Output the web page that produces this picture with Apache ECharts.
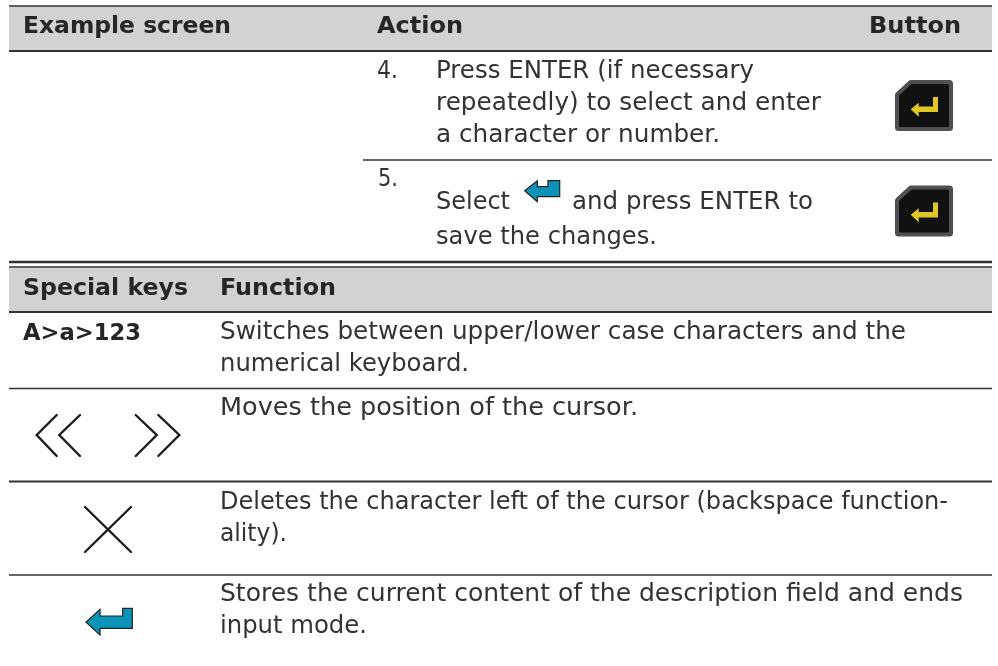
<!DOCTYPE html>
<html>
<head>
<meta charset="utf-8">
<style>
  html, body { margin: 0; padding: 0; background: #fff; }
  #main { width: 998px; height: 666px; }
</style>
</head>
<body>
<div id="main"></div>
<script src="https://cdn.jsdelivr.net/npm/echarts@6/dist/echarts.min.js"></script>
<script>
// table text
const headerTop = ["Example screen", "Action", "Button"];
const stepNumbers = ["4.", "5."];
const stepFour = ["Press ENTER (if necessary", "repeatedly) to select and enter", "a character or number."];
const stepFive = ["Select", "and press ENTER to", "save the changes."];
const headerKeys = ["Special keys", "Function"];
const keyLabel = "A>a>123";
const functions = [
  "Switches between upper/lower case characters and the",
  "numerical keyboard.",
  "Moves the position of the cursor.",
  "Deletes the character left of the cursor (backspace function-",
  "ality).",
  "Stores the current content of the description field and ends",
  "input mode."
];

const FONT = '"DejaVu Sans", sans-serif';
const INK = "#333";
const LEFT = 9, RIGHT = 992;
const measure = document.createElement("canvas").getContext("2d");

// x1 is where the line ends in the reference, the text is stretched a little to reach it
function label(text, x, x1, base, bold) {
  const font = (bold ? "bold 23px " : "24px ") + FONT;
  measure.font = font;
  return {
    type: "text",
    x: x,
    y: base - (bold ? 6.5 : 8),
    scaleX: (x1 - x) / measure.measureText(text).width,
    style: {
      x: 0,
      y: 0,
      text: text,
      fill: bold ? "#262626" : INK,
      font: font,
      align: "left",
      verticalAlign: "middle"
    }
  };
}
function rule(y, width, x1) {
  return {
    type: "line",
    shape: { x1: x1 || LEFT, y1: y, x2: RIGHT, y2: y },
    style: { stroke: "#333", lineWidth: width }
  };
}
function band(y, h) {
  return { type: "rect", shape: { x: LEFT, y: y, width: RIGHT - LEFT, height: h }, style: { fill: "#d2d2d2" } };
}
function blueArrow(points) {
  return { type: "polygon", shape: { points: points }, style: { fill: "#0b93b8", stroke: "#222", lineWidth: 1.2 } };
}
function stroke(points) {
  return { type: "polyline", shape: { points: points }, style: { stroke: "#1c1c1c", fill: null, lineWidth: 2.4, lineJoin: "miter", lineCap: "round" } };
}
// the black keyboard ENTER key, dy moves it down to the second row
function enterKey(dy) {
  const p = (pts) => pts.map((q) => [q[0], q[1] + dy]);
  return [
    {
      type: "polygon",
      shape: { points: p([[898.5, 95], [911, 83.5], [949.5, 83.5], [949.5, 127.5], [898.5, 127.5]]) },
      style: { fill: "#505050", stroke: "#505050", lineWidth: 7, lineJoin: "round" }
    },
    {
      type: "polygon",
      shape: { points: p([[900.5, 96], [912, 85.5], [947.5, 85.5], [947.5, 125.5], [900.5, 125.5]]) },
      style: { fill: "#111", stroke: "#111", lineWidth: 3, lineJoin: "round" }
    },
    {
      type: "polygon",
      shape: { points: p([[910.7, 109.3], [918.7, 102.7], [918.7, 106.5], [933, 106.5], [933, 97], [938, 97], [938, 112], [918.7, 112], [918.7, 116.7]]) },
      style: { fill: "#e0c625" }
    }
  ];
}

const elements = [
  band(6, 45),
  band(267, 45),
  rule(6, 1.5),
  rule(51, 2),
  rule(160, 1.5, 363),
  rule(262, 2.5),
  rule(267, 1.5),
  rule(312, 2),
  rule(388.5, 1.5),
  rule(481.5, 2),
  rule(575, 1.5),

  label(headerTop[0], 23, 231, 34, true),
  label(headerTop[1], 377, 463, 34, true),
  label(headerTop[2], 869, 961, 34, true),
  label(stepNumbers[0], 377, 398, 80),
  label(stepFour[0], 436, 754, 80),
  label(stepFour[1], 436, 821, 112),
  label(stepFour[2], 436, 720, 144),
  label(stepNumbers[1], 378, 398, 188),
  label(stepFive[0], 436, 510, 211),
  label(stepFive[1], 572, 813, 211),
  label(stepFive[2], 436, 657, 246),

  label(headerKeys[0], 23, 188, 296, true),
  label(headerKeys[1], 220, 336, 296, true),
  label(keyLabel, 23, 141, 341, true),
  label(functions[0], 220, 906, 341),
  label(functions[1], 220, 469, 373),
  label(functions[2], 220, 638, 417),
  label(functions[3], 220, 948, 511),
  label(functions[4], 220, 287, 543),
  label(functions[5], 220, 963, 603),
  label(functions[6], 220, 367, 635),

  ...enterKey(0),
  ...enterKey(105.5),

  blueArrow([[524.7, 190.7], [537.3, 180.7], [537.3, 186.7], [548, 186.7], [548, 180.7], [559.7, 180.7], [559.7, 196.7], [537.3, 196.7], [537.3, 201.7]]),
  blueArrow([[86, 622.3], [100, 609.3], [100, 616], [122.7, 616], [122.7, 608.3], [132.3, 608.3], [132.3, 628.3], [100, 628.3], [100, 635]]),

  stroke([[56.7, 415], [36.7, 435], [56.7, 456]]),
  stroke([[80, 415], [59.3, 435], [80, 456]]),
  stroke([[135.7, 415], [156.7, 435], [135.7, 456]]),
  stroke([[158.3, 415], [179.3, 435], [158.3, 456]]),
  stroke([[85, 507], [131, 552]]),
  stroke([[131, 507], [85, 552]])
];

const chart = echarts.init(document.getElementById("main"));
chart.setOption({
  animation: false,
  backgroundColor: "#fff",
  graphic: { elements: elements }
});
</script>
</body>
</html>
